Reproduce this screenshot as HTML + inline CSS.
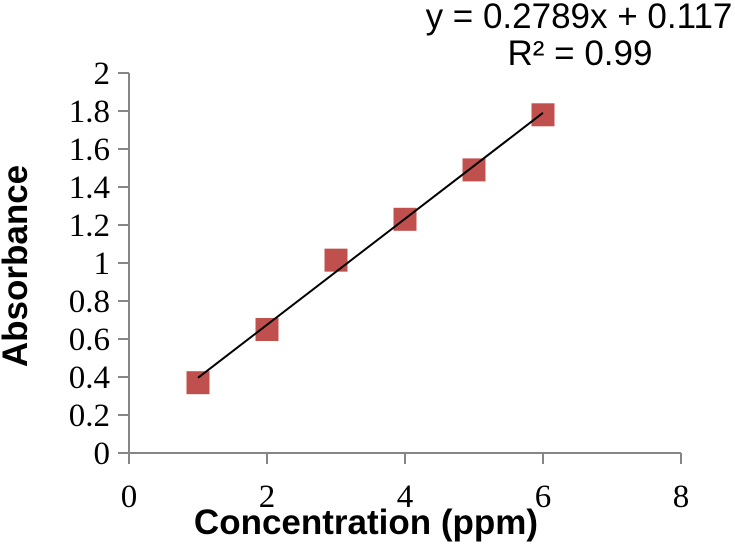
<!DOCTYPE html>
<html><head><meta charset="utf-8"><style>
html,body{margin:0;padding:0;background:#fff;}
svg{display:block;}
</style></head><body>
<svg id="chart" width="735" height="545" xmlns="http://www.w3.org/2000/svg">
<g id="axes"></g><g id="marks"></g>
<text x="579" y="28" text-anchor="middle" font-family="Liberation Sans, sans-serif" font-size="35" fill="#000">y = 0.2789x + 0.117</text>
<text x="580" y="65" text-anchor="middle" font-family="Liberation Sans, sans-serif" font-size="35" fill="#000">R² = 0.99</text>
<text x="366" y="534" text-anchor="middle" font-family="Liberation Sans, sans-serif" font-weight="bold" font-size="35" fill="#000">Concentration (ppm)</text>
<text transform="translate(27,266) rotate(-90)" text-anchor="middle" font-family="Liberation Sans, sans-serif" font-weight="bold" font-size="35" fill="#000">Absorbance</text>
</svg>
<script>
const xValues=[1,2,3,4,5,6];
const yValues=[0.37,0.65,1.015,1.23,1.49,1.78];
const xTicks=[0,2,4,6,8];
const yTicks=[0,0.2,0.4,0.6,0.8,1,1.2,1.4,1.6,1.8,2];
const slope=0.2789, intercept=0.117;
const X0=129,X1=681,Y0=453,Y1=73;
const sx=v=>X0+(v-0)/(8-0)*(X1-X0);
const sy=v=>Y0-(v-0)/(2-0)*(Y0-Y1);
const NS='http://www.w3.org/2000/svg';
const axes=document.getElementById('axes'),marks=document.getElementById('marks');
function mk(tag,attrs,parent){const e=document.createElementNS(NS,tag);for(const k in attrs)e.setAttribute(k,attrs[k]);parent.appendChild(e);return e;}
let e=mk('line',{x1:X0,y1:Y1,x2:X0,y2:Y0,stroke:'#868686','stroke-width':2},axes);


e=mk('line',{x1:X0,y1:Y0,x2:X1,y2:Y0,stroke:'#868686','stroke-width':2},axes);


yTicks.forEach(t=>{
 const y=sy(t);
 let l=mk('line',{x1:X0-11,y1:y,x2:X0,y2:y,stroke:'#868686','stroke-width':2},axes);
 
 
 let tx=mk('text',{x:110,y:y+11,'text-anchor':'end','font-family':'Liberation Serif, serif','font-size':33,fill:'#000'},axes);
 tx.textContent=String(t);
 
 
});
xTicks.forEach(t=>{
 const x=sx(t);
 let l=mk('line',{x1:x,y1:Y0,x2:x,y2:Y0+11,stroke:'#868686','stroke-width':2},axes);
 
 
 let tx=mk('text',{x:x,y:507,'text-anchor':'middle','font-family':'Liberation Serif, serif','font-size':33,fill:'#000'},axes);
 tx.textContent=String(t);
 
 
});
xValues.forEach((xv,i)=>{
 const s=23;
 let r=mk('rect',{x:sx(xv)-s/2,y:sy(yValues[i])-s/2,width:s,height:s,fill:'#c0504d'},marks);
 
 
});
const xa=xValues[0],xb=xValues[xValues.length-1];
e=mk('line',{x1:sx(xa),y1:sy(slope*xa+intercept),x2:sx(xb),y2:sy(slope*xb+intercept),stroke:'#000','stroke-width':2},marks);


</script>
</body></html>
